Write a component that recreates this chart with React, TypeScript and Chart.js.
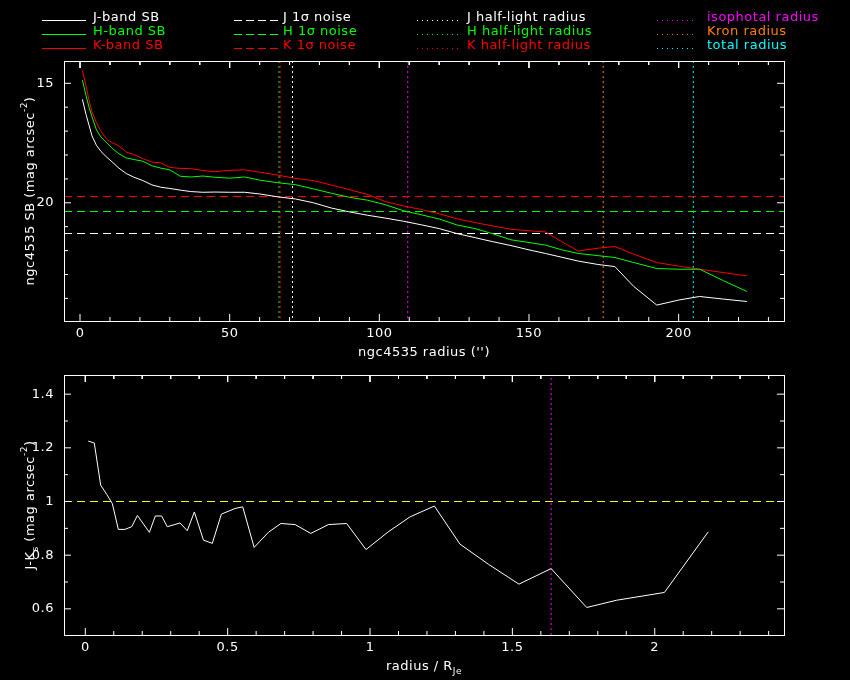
import React, { useEffect, useRef } from 'react';
import { Chart, registerables } from 'chart.js';

Chart.register(...registerables);

// surface brightness profiles, radius in arcsec, SB in mag arcsec^-2
const radius = [
  0.8, 2, 3, 4, 5.5, 7, 9, 11, 13, 15.5, 18, 21, 24, 27, 30, 33.5, 37, 41, 45, 50,
  55, 60, 66, 72, 78, 84, 90, 96, 102, 108, 114, 120, 126, 132, 138, 144, 150, 155.5,
  161, 166.5, 173, 178.7, 185, 192.7, 200, 207, 215, 222.8,
];
const sbJ = [
  15.67, 16.3, 16.75, 17.2, 17.6, 17.85, 18.1, 18.32, 18.55, 18.78, 18.93, 19.07, 19.25,
  19.35, 19.4, 19.47, 19.53, 19.56, 19.55, 19.56, 19.56, 19.63, 19.75, 19.84, 20.0, 20.22,
  20.38, 20.52, 20.64, 20.77, 20.92, 21.08, 21.29, 21.46, 21.63, 21.79, 21.97, 22.12, 22.28,
  22.44, 22.58, 22.67, 23.5, 24.28, 24.07, 23.92, 24.03, 24.13,
];
const sbH = [
  14.87, 15.5, 16.0, 16.4, 16.95, 17.25, 17.5, 17.75, 17.95, 18.12, 18.19, 18.26, 18.45,
  18.55, 18.62, 18.89, 18.92, 18.88, 18.93, 18.97, 18.92, 19.05, 19.16, 19.24, 19.42, 19.6,
  19.77, 19.89, 20.08, 20.33, 20.5, 20.68, 20.93, 21.08, 21.3, 21.55, 21.66, 21.77, 21.97,
  22.12, 22.21, 22.29, 22.5, 22.75, 22.78, 22.78, 23.26, 23.71,
];
const sbK = [
  14.46, 15.1, 15.7, 16.2, 16.65, 17.0, 17.35, 17.5, 17.62, 17.88, 17.98, 18.15, 18.3,
  18.33, 18.52, 18.56, 18.57, 18.65, 18.7, 18.64, 18.62, 18.72, 18.84, 18.98, 19.07, 19.26,
  19.45, 19.65, 19.95, 20.13, 20.28, 20.46, 20.67, 20.83, 20.97, 21.11, 21.17, 21.22, 21.63,
  22.02, 21.9, 21.83, 22.15, 22.5, 22.65, 22.78, 22.92, 23.06,
];

// J, H, K
const noiseLevels = [21.285, 20.364, 19.737];
const halfLightRadii = [70.99, 66.5, 66.85];
// isophotal, Kron, total
const apertureRadii = [109.5, 174.8, 204.9];

// J-Ks colour profile against radius / R_Je
const colorRadius = [
  0.0105, 0.0316, 0.054, 0.075, 0.095, 0.116, 0.139, 0.163, 0.183, 0.225, 0.246, 0.268,
  0.288, 0.333, 0.358, 0.383, 0.415, 0.446, 0.478, 0.526, 0.553, 0.593, 0.643, 0.687,
  0.737, 0.792, 0.854, 0.918, 0.986, 1.064, 1.141, 1.226, 1.316, 1.416, 1.523, 1.636,
  1.761, 1.866, 2.034, 2.188,
];
const colorJK = [
  1.225, 1.218, 1.061, 1.027, 0.992, 0.896, 0.896, 0.906, 0.948, 0.885, 0.946, 0.946,
  0.906, 0.92, 0.891, 0.961, 0.856, 0.844, 0.953, 0.974, 0.98, 0.829, 0.885, 0.918,
  0.914, 0.881, 0.914, 0.918, 0.821, 0.887, 0.943, 0.983, 0.841, 0.766, 0.692, 0.75,
  0.605, 0.632, 0.661, 0.887,
];
const colorRefLevel = [1.0];
const colorIsoRadius = [1.636];

// ticks and tick labels
const sbXTicks = [0, 50, 100, 150, 200];
const sbXLabels = ['0', '50', '100', '150', '200'];
const sbXMinor = [0, 10, 20, 30, 40, 50, 60, 70, 80, 90, 100, 110, 120, 130, 140, 150, 160, 170, 180, 190, 200, 210, 220, 230];
const sbYTicks = [15, 20];
const sbYLabels = ['15', '20'];
const sbYMinor = [15, 16, 17, 18, 19, 20, 21, 22, 23, 24];
const colXTicks = [0, 0.5, 1, 1.5, 2];
const colXLabels = ['0', '0.5', '1', '1.5', '2'];
const colXMinor = [0, 0.1, 0.2, 0.3, 0.4, 0.5, 0.6, 0.7, 0.8, 0.9, 1, 1.1, 1.2, 1.3, 1.4, 1.5, 1.6, 1.7, 1.8, 1.9, 2, 2.1, 2.2, 2.3, 2.4];
const colYTicks = [0.6, 0.8, 1, 1.2, 1.4];
const colYLabels = ['0.6', '0.8', '1', '1.2', '1.4'];
const colYMinor = [0.6, 0.7, 0.8, 0.9, 1, 1.1, 1.2, 1.3, 1.4];

const bandNames = ['J', 'H', 'K'];
const bandColors = ['#ffffff', '#00ff00', '#ff0000'];
const apertureNames = ['isophotal radius', 'Kron radius', 'total radius'];
const apertureColors = ['#ff00ff', '#ff8000', '#00ffff'];

const FONT = '"DejaVu Sans", sans-serif';
const DOTS = [2, 3];
const DASH = [8, 5];

const SB_X = [-5.35, 235.2];
const SB_Y = [14.067, 24.946];
const COL_X = [-0.0748, 2.454];
const COL_Y = [0.5025, 1.4714];
const AREA_W = 720;
const AREA_H = 260;
const MAJOR_LEN = 7;
const MINOR_LEN = 4;

type Part = { t: string; s?: 'sub' | 'sup' };

interface FrameSpec {
  xTicks: number[];
  xLabels: string[];
  yTicks: number[];
  yLabels: string[];
  xTitle: Part[];
  yTitle: Part[];
  legend?: boolean;
}

const pts = (xs: number[], ys: number[]) => xs.map((x, i) => ({ x, y: ys[i] }));
const isMajor = (v: number, list: number[]) => list.some((t) => Math.abs(t - v) < 1e-6);

const line = (data: any[], color: string, dash: number[] = []) => ({
  data,
  borderColor: color,
  borderWidth: 1,
  borderDash: dash,
  pointRadius: 0,
  tension: 0,
  fill: false,
});

// inward tick marks on all four sides, as broken line segments in data space
function tickMarks(xr: number[], yr: number[], reverseY: boolean, xMinor: number[], xMajor: number[], yMinor: number[], yMajor: number[]) {
  const perPxX = (xr[1] - xr[0]) / AREA_W;
  const perPxY = (yr[1] - yr[0]) / AREA_H;
  const yBottom = reverseY ? yr[1] : yr[0];
  const yTop = reverseY ? yr[0] : yr[1];
  const up = reverseY ? -1 : 1;
  const out: { x: number; y: number | null }[] = [];
  xMinor.forEach((v) => {
    const len = (isMajor(v, xMajor) ? MAJOR_LEN : MINOR_LEN) * perPxY;
    out.push({ x: v, y: yBottom }, { x: v, y: yBottom + up * len }, { x: v, y: null });
    out.push({ x: v, y: yTop }, { x: v, y: yTop - up * len }, { x: v, y: null });
  });
  yMinor.forEach((v) => {
    const len = (isMajor(v, yMajor) ? MAJOR_LEN : MINOR_LEN) * perPxX;
    out.push({ x: xr[0], y: v }, { x: xr[0] + len, y: v }, { x: xr[0], y: null });
    out.push({ x: xr[1], y: v }, { x: xr[1] - len, y: v }, { x: xr[1], y: null });
  });
  return out;
}

function drawRich(ctx: any, parts: Part[], x: number, y: number, rotate: boolean) {
  ctx.save();
  ctx.translate(x, y);
  if (rotate) ctx.rotate(-Math.PI / 2);
  ctx.letterSpacing = '0.5px';
  ctx.textAlign = 'left';
  ctx.textBaseline = 'alphabetic';
  const fontFor = (p: Part) => (p.s ? `9px ${FONT}` : `13px ${FONT}`);
  const widths = parts.map((p) => {
    ctx.font = fontFor(p);
    return ctx.measureText(p.t).width;
  });
  let cx = -widths.reduce((a, b) => a + b, 0) / 2;
  parts.forEach((p, i) => {
    ctx.font = fontFor(p);
    const dy = p.s === 'sub' ? 4 : p.s === 'sup' ? -7 : 0;
    ctx.fillText(p.t, cx, dy);
    cx += widths[i];
  });
  ctx.restore();
}

function drawLegend(ctx: any) {
  const cols = [
    { x0: 42, x1: 86, tx: 93, dash: [] as number[], labels: bandNames.map((b) => `${b}-band SB`), colors: bandColors },
    { x0: 234, x1: 278, tx: 283, dash: [8, 4], labels: bandNames.map((b) => `${b} 1σ noise`), colors: bandColors },
    { x0: 417, x1: 458, tx: 467, dash: [1, 4], labels: bandNames.map((b) => `${b} half-light radius`), colors: bandColors },
    { x0: 657, x1: 696, tx: 707, dash: [1, 4], labels: apertureNames, colors: apertureColors },
  ];
  const rows = [21, 35, 49];
  ctx.save();
  ctx.font = `13px ${FONT}`;
  ctx.letterSpacing = '0.5px';
  ctx.textAlign = 'left';
  ctx.textBaseline = 'alphabetic';
  ctx.lineWidth = 1;
  cols.forEach((c) => {
    c.labels.forEach((label, i) => {
      const y = rows[i];
      ctx.strokeStyle = c.colors[i];
      ctx.fillStyle = c.colors[i];
      ctx.setLineDash(c.dash);
      ctx.beginPath();
      ctx.moveTo(c.x0, y - 0.5);
      ctx.lineTo(c.x1, y - 0.5);
      ctx.stroke();
      ctx.fillText(label, c.tx, y);
    });
  });
  ctx.restore();
}

// frame, tick labels, axis titles and legend
const framePlugin = (id: string, spec: FrameSpec) => ({
  id,
  afterDraw(chart: any) {
    const ctx = chart.ctx;
    const a = chart.chartArea;
    const sx = chart.scales.x;
    const sy = chart.scales.y;

    ctx.save();
    ctx.setLineDash([]);
    ctx.lineWidth = 1;
    ctx.strokeStyle = '#ffffff';
    ctx.strokeRect(a.left + 0.5, a.top + 0.5, a.right - a.left, a.bottom - a.top);
    ctx.restore();

    ctx.save();
    ctx.fillStyle = '#ffffff';
    ctx.font = `13px ${FONT}`;
    ctx.letterSpacing = '0.5px';
    ctx.textBaseline = 'middle';
    ctx.textAlign = 'center';
    spec.xTicks.forEach((v, i) => ctx.fillText(spec.xLabels[i], sx.getPixelForValue(v), a.bottom + 13));
    ctx.textAlign = 'right';
    spec.yTicks.forEach((v, i) => ctx.fillText(spec.yLabels[i], a.left - 10, sy.getPixelForValue(v)));

    drawRich(ctx, spec.xTitle, (a.left + a.right) / 2, a.bottom + 35, false);
    drawRich(ctx, spec.yTitle, 34, (a.top + a.bottom) / 2, true);
    if (spec.legend) drawLegend(ctx);
    ctx.restore();
  },
});

const baseOptions = (padding: any, xr: number[], yr: number[], reverse: boolean) => ({
  animation: false as const,
  responsive: false,
  events: [],
  spanGaps: false,
  layout: { padding },
  plugins: { legend: { display: false }, tooltip: { enabled: false } },
  scales: {
    x: { type: 'linear' as const, display: false, min: xr[0], max: xr[1] },
    y: { type: 'linear' as const, display: false, min: yr[0], max: yr[1], reverse },
  },
});

const App: React.FC = () => {
  const sbRef = useRef<HTMLCanvasElement>(null);
  const colRef = useRef<HTMLCanvasElement>(null);

  useEffect(() => {
    if (!sbRef.current || !colRef.current) return;
    const profiles = [sbJ, sbH, sbK];

    const sbChart = new Chart(sbRef.current, {
      type: 'line',
      data: {
        datasets: [
          line(tickMarks(SB_X, SB_Y, true, sbXMinor, sbXTicks, sbYMinor, sbYTicks), '#ffffff'),
          ...profiles.map((p, i) => line(pts(radius, p), bandColors[i])),
          ...noiseLevels.map((lvl, i) => line(pts(SB_X, [lvl, lvl]), bandColors[i], DASH)),
          ...apertureRadii.map((r, i) => line(pts([r, r], SB_Y), apertureColors[i], DOTS)),
          ...halfLightRadii.map((r, i) => line(pts([r, r], SB_Y), bandColors[i], DOTS)).reverse(),
        ],
      },
      options: baseOptions({ left: 64, top: 61, right: 66, bottom: 44 }, SB_X, SB_Y, true) as any,
      plugins: [
        framePlugin('sbFrame', {
          xTicks: sbXTicks,
          xLabels: sbXLabels,
          yTicks: sbYTicks,
          yLabels: sbYLabels,
          xTitle: [{ t: "ngc4535 radius ('')" }],
          yTitle: [{ t: 'ngc4535 SB (mag arcsec' }, { t: '-2', s: 'sup' }, { t: ')' }],
          legend: true,
        }),
      ],
    });

    const colChart = new Chart(colRef.current, {
      type: 'line',
      data: {
        datasets: [
          line(tickMarks(COL_X, COL_Y, false, colXMinor, colXTicks, colYMinor, colYTicks), '#ffffff'),
          line(pts(colorRadius, colorJK), '#ffffff'),
          ...colorRefLevel.map((lvl) => line(pts(COL_X, [lvl, lvl]), '#ffff00', DASH)),
          ...colorIsoRadius.map((r) => line(pts([r, r], COL_Y), '#ff00ff', DOTS)),
        ],
      },
      options: baseOptions({ left: 64, top: 10, right: 66, bottom: 45 }, COL_X, COL_Y, false) as any,
      plugins: [
        framePlugin('colFrame', {
          xTicks: colXTicks,
          xLabels: colXLabels,
          yTicks: colYTicks,
          yLabels: colYLabels,
          xTitle: [{ t: 'radius / R' }, { t: 'Je', s: 'sub' }],
          yTitle: [{ t: 'J-K' }, { t: 's', s: 'sub' }, { t: ' (mag arcsec' }, { t: '-2', s: 'sup' }, { t: ')' }],
        }),
      ],
    });

    return () => {
      sbChart.destroy();
      colChart.destroy();
    };
  }, []);

  return (
    <div style={{ position: 'fixed', left: 0, top: 0, width: 850, height: 680, background: '#000' }}>
      <canvas ref={sbRef} width={850} height={365} style={{ position: 'absolute', left: 0, top: 0, width: 850, height: 365 }} />
      <canvas ref={colRef} width={850} height={315} style={{ position: 'absolute', left: 0, top: 365, width: 850, height: 315 }} />
    </div>
  );
};

export default App;
